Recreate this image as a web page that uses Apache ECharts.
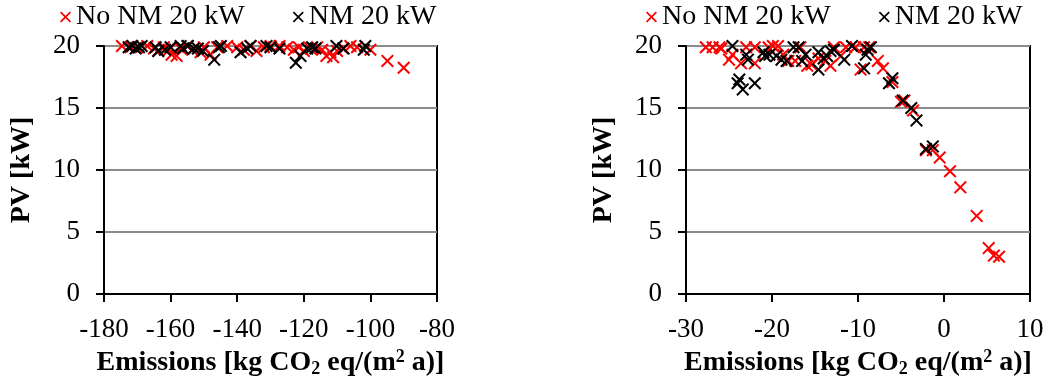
<!DOCTYPE html>
<html>
<head>
<meta charset="utf-8">
<script src="https://cdn.jsdelivr.net/npm/echarts@6/dist/echarts.min.js"></script>
<style>
    html, body { margin: 0; padding: 0; background: #fff; }
    #chart { width: 1051px; height: 377px; }
</style>
</head>
<body>
<div id="chart"></div>
<script>
    // series names
    var nameNoNM = 'No NM 20 kW';
    var nameNM = 'NM 20 kW';

    // left panel: [emissions, PV]
    var leftNoNM = [
        [-174.6, 20], [-172, 19.9], [-170, 19.9], [-167, 20], [-165, 19.8], [-163.7, 19.6],
        [-162, 19.9], [-160.5, 19.7], [-159.7, 19.3], [-158.2, 19.2], [-157, 19.8], [-155, 20],
        [-153.5, 19.7], [-151, 19.5], [-150, 19.9], [-148, 19.3], [-146, 19.9], [-143, 20],
        [-140, 19.9], [-138, 19.7], [-136, 20], [-134.2, 19.6], [-132, 19.9], [-130, 20],
        [-127.3, 20], [-125, 19.9], [-123, 19.7], [-121.5, 19.9], [-120, 19.6], [-118, 19.8],
        [-116, 19.9], [-114.5, 19.7], [-113.2, 19.2], [-112, 19.5], [-111.2, 19.1], [-110, 19.6],
        [-108, 19.8], [-106, 20], [-104, 19.9], [-100, 19.7], [-94.9, 18.8], [-90, 18.25]
    ];
    var leftNM = [
        [-172.6, 19.9], [-171.5, 20], [-170.5, 19.8], [-169.5, 19.9], [-168.7, 20], [-164.5, 19.9],
        [-163.7, 19.6], [-161.7, 19.7], [-160, 19.9], [-157, 20], [-156.3, 19.8], [-154.8, 20],
        [-153, 19.8], [-151.8, 19.8], [-150.3, 19.6], [-146.9, 18.9], [-145.5, 19.9], [-144.9, 20],
        [-139, 19.5], [-137, 19.8], [-136, 20], [-131.2, 20], [-130, 19.9], [-127.3, 19.8],
        [-122.4, 18.65], [-121, 19.2], [-119, 19.8], [-117.5, 19.9], [-116.5, 19.8], [-110.2, 20],
        [-108.2, 19.8], [-102, 19.7], [-101.5, 20]
    ];

    // right panel: [emissions, PV]
    var rightNoNM = [
        [-27.7, 19.9], [-26.9, 19.9], [-26.1, 19.9], [-25.9, 19.8], [-25.0, 18.9], [-24.6, 19.3],
        [-23.6, 18.6], [-23.0, 19.9], [-22.0, 18.6], [-22.0, 19.9], [-20.4, 19.9], [-19.9, 20],
        [-19.3, 20], [-18.7, 19.3], [-18.1, 18.8], [-17.3, 18.8], [-16.7, 19.9], [-15.9, 18.4],
        [-15.4, 18.5], [-14.6, 19.0], [-13.8, 18.8], [-13.2, 18.4], [-12.8, 19.9], [-12.0, 19.2],
        [-11.4, 19.9], [-10.3, 19.9], [-9.7, 18.1], [-9.3, 19.9], [-8.7, 19.9], [-7.7, 18.8],
        [-7.1, 18.2], [-6.0, 17.1], [-5.0, 15.5], [-4.6, 15.6], [-3.6, 14.8], [-2.1, 11.6],
        [-1.3, 11.6], [-0.5, 11.0], [0.7, 9.9], [1.9, 8.6], [3.8, 6.3], [5.2, 3.7],
        [5.8, 3.1], [6.4, 3.0]
    ];
    var rightNM = [
        [-24.6, 20], [-24.0, 17.0], [-23.4, 16.5], [-23.8, 17.3], [-22.0, 17.0], [-23.0, 19.3],
        [-22.8, 18.9], [-21.0, 19.5], [-20.8, 19.2], [-20.3, 19.3], [-19.5, 19.2], [-18.9, 18.9],
        [-18.3, 18.8], [-17.5, 19.9], [-16.9, 19.9], [-16.5, 18.8], [-16.1, 19.3], [-14.6, 18.1],
        [-14.6, 19.5], [-14.0, 19.0], [-13.6, 19.2], [-13.2, 19.6], [-12.8, 19.7], [-11.6, 18.9],
        [-10.7, 20], [-9.3, 18.2], [-9.1, 19.3], [-8.9, 19.7], [-8.5, 19.9], [-6.4, 17.0],
        [-6.0, 17.4], [-4.8, 15.6], [-3.8, 15.0], [-3.2, 14.0], [-2.1, 11.7], [-1.3, 11.9]
    ];

    // axis ranges
    var leftX = { min: -180, max: -80, interval: 20 };
    var rightX = { min: -30, max: 10, interval: 10 };
    var yRange = { min: 0, max: 20, interval: 5 };

    var font = "'Liberation Serif', serif";
    var cross = 'path://M0,11 L11,0 L50,39 L89,0 L100,11 L61,50 L100,89 L89,100 L50,61 L11,100 L0,89 L39,50 Z';
    var xName = '{b|Emissions [kg CO}{s|2}{b| eq/(m}{p|2}{b| a)]}';

    function xAxis(idx, r) {
        return {
            type: 'value', gridIndex: idx, min: r.min, max: r.max, interval: r.interval,
            name: xName, nameLocation: 'middle', nameGap: 41,
            nameTextStyle: {
                rich: {
                    b: { fontFamily: font, fontSize: 28, fontWeight: 'bold', color: '#000', lineHeight: 30 },
                    s: { fontFamily: font, fontSize: 18, fontWeight: 'bold', color: '#000', verticalAlign: 'bottom' },
                    p: { fontFamily: font, fontSize: 18, fontWeight: 'bold', color: '#000', verticalAlign: 'top' }
                }
            },
            axisLine: { show: true, onZero: false, lineStyle: { color: '#000', width: 2 } },
            axisTick: { show: true, inside: false, length: 8, lineStyle: { color: '#000', width: 2 } },
            axisLabel: { fontFamily: font, fontSize: 27, color: '#000', margin: 22 },
            splitLine: { show: false }
        };
    }

    function yAxis(idx) {
        return {
            type: 'value', gridIndex: idx, min: yRange.min, max: yRange.max, interval: yRange.interval,
            name: 'PV [kW]', nameLocation: 'middle', nameGap: 68,
            nameTextStyle: { fontFamily: font, fontSize: 28, fontWeight: 'bold', color: '#000' },
            axisLine: { show: true, onZero: false, lineStyle: { color: '#000', width: 2 } },
            axisTick: { show: true, inside: false, length: 8, lineStyle: { color: '#000', width: 2 } },
            axisLabel: { fontFamily: font, fontSize: 27, color: '#000', margin: 24 },
            splitLine: { show: true, lineStyle: { color: '#8c8c8c', width: 2 } }
        };
    }

    function scatter(name, idx, data, color) {
        return {
            name: name, type: 'scatter', xAxisIndex: idx, yAxisIndex: idx,
            symbol: cross, symbolSize: 13, data: data,
            itemStyle: { color: color, opacity: 1 }
        };
    }

    function legend(left) {
        return {
            left: left, top: -2, itemGap: 48, itemWidth: 11, itemHeight: 11,
            data: [
                { name: nameNoNM, icon: cross },
                { name: nameNM, icon: cross }
            ],
            textStyle: { fontFamily: font, fontSize: 28, color: '#000' }
        };
    }

    var gridStyle = { show: true, borderColor: '#000', borderWidth: 2, backgroundColor: 'transparent', outerBoundsMode: 'none', containLabel: false };

    var myChart = echarts.init(document.getElementById('chart'));
    myChart.setOption({
        animation: false,
        backgroundColor: '#fff',
        legend: [legend(55), legend(641)],
        grid: [
            Object.assign({ left: 104, top: 46, width: 333, height: 248 }, gridStyle),
            Object.assign({ left: 686, top: 46, width: 344, height: 248 }, gridStyle)
        ],
        xAxis: [xAxis(0, leftX), xAxis(1, rightX)],
        yAxis: [yAxis(0), yAxis(1)],
        series: [
            scatter(nameNoNM, 0, leftNoNM, '#ff0000'),
            scatter(nameNM, 0, leftNM, '#000000'),
            scatter(nameNoNM, 1, rightNoNM, '#ff0000'),
            scatter(nameNM, 1, rightNM, '#000000')
        ]
    });
</script>
</body>
</html>
